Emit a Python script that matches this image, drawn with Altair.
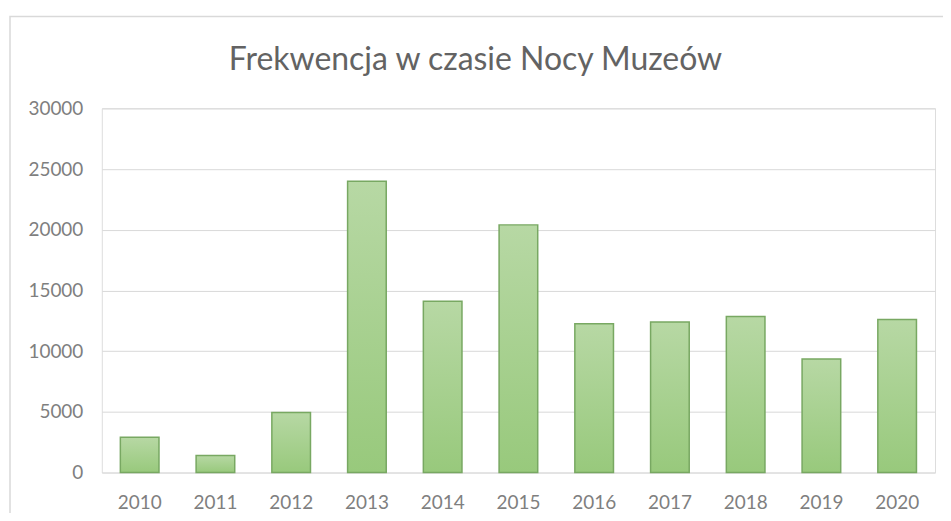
import altair as alt
import pandas as pd

years = ["2010", "2011", "2012", "2013", "2014", "2015", "2016", "2017", "2018", "2019", "2020"]
visitors = [2900, 1400, 4950, 24000, 14100, 20400, 12250, 12400, 12850, 9350, 12600]
y_ticks = [0, 5000, 10000, 15000, 20000, 25000, 30000]
title_text = "Frekwencja w czasie Nocy Muzeów"

df = pd.DataFrame({"rok": years, "frekwencja": visitors})

gradient = alt.LinearGradient(
    gradient="linear",
    stops=[
        alt.GradientStop(color="#b7d8a4", offset=0),
        alt.GradientStop(color="#98c97c", offset=1),
    ],
    x1=0, x2=0, y1=0, y2=1,
)

bars = alt.Chart(df).mark_bar(
    color=gradient, stroke="#78a862", strokeWidth=1.5
).encode(
    x=alt.X("rok:N", sort=years, title=None,
            scale=alt.Scale(paddingInner=0.49, paddingOuter=0.245),
            axis=alt.Axis(labelAngle=0, labelFont="Lato", labelFontSize=19,
                          labelColor="#7f7f7f", labelPadding=21, ticks=False,
                          domain=False, grid=False)),
    y=alt.Y("frekwencja:Q", title=None,
            scale=alt.Scale(domain=[0, 30000], nice=False),
            axis=alt.Axis(values=y_ticks, format="d", labelFont="Lato",
                          labelFontSize=19, labelColor="#7f7f7f", labelPadding=19,
                          ticks=False, domain=False, grid=True,
                          gridColor="#d9d9d9", gridWidth=1)),
)

frame = alt.Chart(pd.DataFrame({"a": [0]})).mark_rect(
    fill=None, stroke="#d9d9d9", strokeWidth=1.5
).encode(
    x=alt.value(-92), x2=alt.value(900),
    y=alt.value(-92), y2=alt.value(440),
)

chart = alt.layer(frame, bars).properties(
    width=835,
    height=365,
    title=alt.TitleParams(title_text, font="Lato", fontSize=32,
                          fontWeight="normal", color="#636363",
                          anchor="middle", dx=-43, offset=-86,
                          baseline="alphabetic"),
    autosize=alt.AutoSizeParams(type="none"),
    padding={"left": 94, "top": 100, "right": 8, "bottom": 40},
).configure_view(stroke=None).configure(background="white")

chart.save("out.html", embed_options={"renderer": "svg", "actions": False})
